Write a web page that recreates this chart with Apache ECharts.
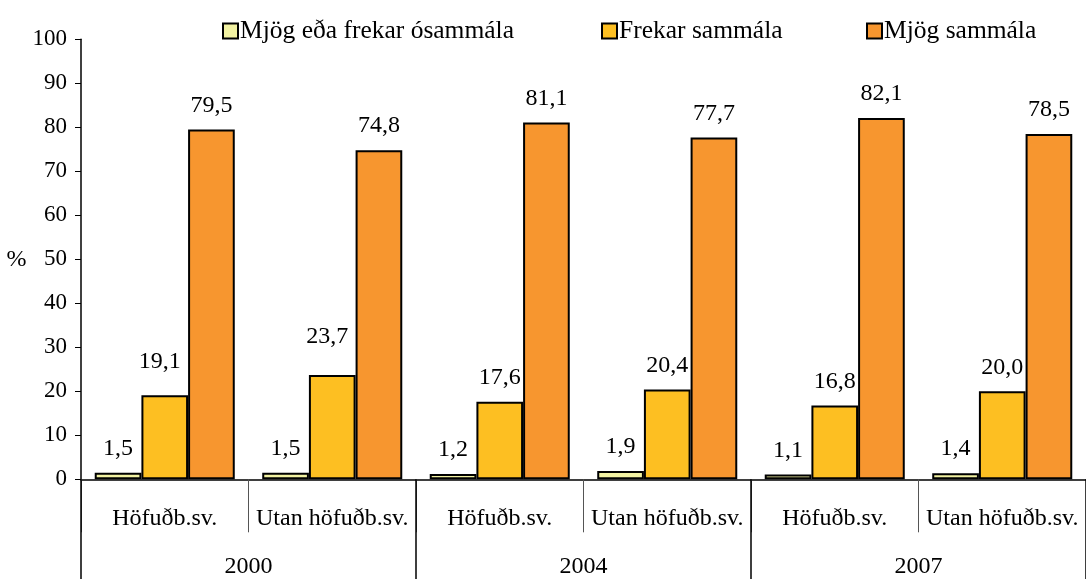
<!DOCTYPE html>
<html>
<head>
<meta charset="utf-8">
<script src="https://cdn.jsdelivr.net/npm/echarts@6/dist/echarts.min.js"></script>
<style>
html,body{margin:0;padding:0;background:#fff;}
#c{width:1086px;height:579px;}
</style>
</head>
<body>
<div id="c"></div>
<script>
const categories = ['Höfuðb.sv.', 'Utan höfuðb.sv.', 'Höfuðb.sv.', 'Utan höfuðb.sv.', 'Höfuðb.sv.', 'Utan höfuðb.sv.'];
const years = ['2000', '2004', '2007'];
const seriesNames = ['Mjög eða frekar ósammála', 'Frekar sammála', 'Mjög sammála'];
const disagree = [1.5, 1.5, 1.2, 1.9, 1.1, 1.4];
const somewhatAgree = [19.1, 23.7, 17.6, 20.4, 16.8, 20.0];
const stronglyAgree = [79.5, 74.8, 81.1, 77.7, 82.1, 78.5];
const yTicks = [0, 10, 20, 30, 40, 50, 60, 70, 80, 90, 100];

const FONT = 'Liberation Serif';
const colors = ['#F2F2A2', '#FDBF22', '#F7962F'];
const fmt = p => p.value.toFixed(1).replace('.', ',');

// manual label nudges (as placed in the original chart)
const yellowOffsets = [[-5, -10], [-5, -14], [0, 0], [0, 0], [0, 0], [0, 0]];

function mkData(arr, offsets) {
  return arr.map((v, i) => offsets ? { value: v, label: { offset: offsets[i] } } : v);
}

const chart = echarts.init(document.getElementById('c'));
const labelBase = { show: true, position: 'top', distance: 12, color: '#000', fontFamily: FONT, fontSize: 24, formatter: fmt };
const itemBase = { borderColor: '#000', borderWidth: 2 };

chart.setOption({
  animation: false,
  backgroundColor: '#fff',
  textStyle: { fontFamily: FONT },
  legend: [
    { data: [seriesNames[0]], left: 217, top: 13 },
    { data: [seriesNames[1]], left: 596, top: 13 },
    { data: [seriesNames[2]], left: 861, top: 13 }
  ].map(l => Object.assign(l, {
    icon: 'rect', itemWidth: 15, itemHeight: 15, itemGap: 6,
    textStyle: { fontFamily: FONT, fontSize: 25.5, color: '#000', padding: [0, 0, 0, -3] },
    itemStyle: { borderColor: '#000', borderWidth: 2 }
  })),
  grid: { left: 81, right: -7.5, top: 39.3, bottom: 99.7, containLabel: false },
  xAxis: [
    {
      type: 'category', data: categories, position: 'bottom',
      axisLine: { show: true, lineStyle: { color: '#000', width: 1.5 } },
      axisTick: { show: true, length: 53, lineStyle: { color: '#555', width: 1 } },
      axisLabel: { color: '#000', fontFamily: FONT, fontSize: 24, margin: 27, interval: 0 }
    },
    {
      type: 'category', data: years, position: 'bottom',
      axisLine: { show: false },
      axisTick: { show: true, length: 100, lineStyle: { color: '#000', width: 1.5 } },
      axisLabel: { color: '#000', fontFamily: FONT, fontSize: 24, margin: 75, interval: 0 }
    }
  ],
  yAxis: {
    type: 'value', min: yTicks[0], max: yTicks[yTicks.length - 1], interval: 10,
    name: '%', nameLocation: 'middle', nameRotate: 0, nameGap: 52,
    nameTextStyle: { color: '#000', fontFamily: FONT, fontSize: 24 },
    axisLine: { show: true, lineStyle: { color: '#000', width: 1.5 } },
    axisTick: { show: true, length: 6, lineStyle: { color: '#000', width: 1 } },
    splitLine: { show: false },
    axisLabel: { color: '#000', fontFamily: FONT, fontSize: 23, margin: 14 }
  },
  series: [
    { name: seriesNames[0], type: 'bar', xAxisIndex: 0, data: mkData(disagree), barGap: '0%', barCategoryGap: '16.4%',
      itemStyle: Object.assign({ color: colors[0] }, itemBase), label: labelBase },
    { name: seriesNames[1], type: 'bar', xAxisIndex: 0, data: mkData(somewhatAgree, yellowOffsets), barGap: '0%', barCategoryGap: '16.4%',
      itemStyle: Object.assign({ color: colors[1] }, itemBase), label: labelBase },
    { name: seriesNames[2], type: 'bar', xAxisIndex: 0, data: mkData(stronglyAgree), barGap: '0%', barCategoryGap: '16.4%',
      itemStyle: Object.assign({ color: colors[2] }, itemBase), label: labelBase }
  ]
});
</script>
</body>
</html>
